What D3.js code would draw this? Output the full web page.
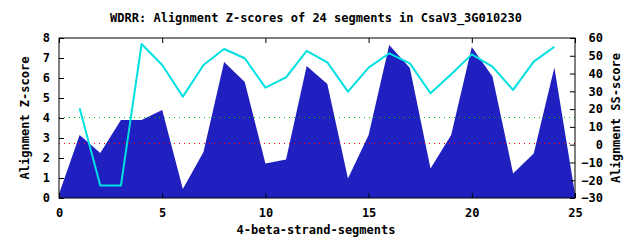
<!DOCTYPE html>
<html>
<head>
<meta charset="utf-8">
<script src="https://cdn.jsdelivr.net/npm/d3@7"></script>
<style>
  body { margin: 0; background: #fff; }
  svg { display: block; }
  text { font-family: "DejaVu Sans Mono", "Liberation Mono", monospace; font-weight: bold; font-size: 12px; fill: #000; }
</style>
</head>
<body>
<svg class="chart" width="640" height="240"></svg>
<script>
// segment index 0..25
var segments = d3.range(0, 26);
// Z-score (filled area, left axis)
var zScores = [0.2, 3.15, 2.25, 3.9, 3.9, 4.4, 0.45, 2.3, 6.8, 5.8, 1.73, 1.93, 6.6, 5.7,
               0.98, 3.15, 7.65, 6.5, 1.48, 3.15, 7.55, 6.07, 1.23, 2.23, 6.52, 0.2];
// SS-score (cyan line, right axis), segments 1..24
var ssSegments = d3.range(1, 25);
var ssScores = [20.5, -23, -23, 56.6, 44.8, 27, 44.8, 53.8, 48.6, 32.1, 37.9, 52.7,
                46.3, 29.8, 43.3, 51.4, 45.7, 28.9, 39.6, 50.8, 43.9, 30.8, 46.7, 55.1];
// threshold lines (left axis units)
var thresholds = [{v: 4.03, c: "#00c000"}, {v: 2.73, c: "#ff0000"}];

var xTicks = [0, 5, 10, 15, 20, 25],
    yTicks = d3.range(0, 9),
    y2Ticks = d3.range(-30, 61, 10);

var svg = d3.select("svg.chart"),
    margin = {top: 38, right: 65, bottom: 42, left: 59};
var width = 640 - margin.left - margin.right,
    height = 240 - margin.top - margin.bottom;

var x = d3.scaleLinear().domain([0, 25]).range([margin.left, margin.left + width]);
var y = d3.scaleLinear().domain([0, 8]).range([margin.top + height, margin.top]);
var y2 = d3.scaleLinear().domain([-30, 60]).range([margin.top + height, margin.top]);

// title
svg.append("text")
    .attr("x", 316).attr("y", 22)
    .attr("text-anchor", "middle")
    .attr("font-size", "11.8px")
    .text("WDRR: Alignment Z-scores of 24 segments in CsaV3_3G010230");

// filled z-score area
var area = d3.area()
    .x(function(d, i) { return x(segments[i]); })
    .y0(y(0))
    .y1(function(d) { return y(d); });
svg.append("path")
    .datum(zScores)
    .attr("fill", "#2020c0")
    .attr("d", area);

// threshold dotted lines
svg.selectAll("line.thr")
  .data(thresholds)
  .enter().append("line")
    .attr("class", "thr")
    .attr("x1", x(0)).attr("x2", x(25))
    .attr("y1", function(d) { return Math.round(y(d.v)) + 0.5; })
    .attr("y2", function(d) { return Math.round(y(d.v)) + 0.5; })
    .attr("stroke", function(d) { return d.c; })
    .attr("stroke-width", 1)
    .attr("stroke-dasharray", "1,4");

// ss-score line
var line = d3.line()
    .x(function(d, i) { return x(ssSegments[i]); })
    .y(function(d) { return y2(d); });
svg.append("path")
    .datum(ssScores)
    .attr("fill", "none")
    .attr("stroke", "#00e0e0")
    .attr("stroke-width", 2)
    .attr("stroke-linejoin", "round")
    .attr("d", line);

// axes (ticks inward)
var tick = 5;
var gx = svg.append("g")
    .attr("transform", "translate(0," + y(0) + ")")
    .call(d3.axisBottom(x).tickValues(xTicks).tickSize(-tick).tickPadding(10));
var gxTop = svg.append("g")
    .attr("transform", "translate(0," + y(8) + ")")
    .call(d3.axisTop(x).tickValues(xTicks).tickSize(-tick).tickFormat(""));
var gy = svg.append("g")
    .attr("transform", "translate(" + x(0) + ",0)")
    .call(d3.axisLeft(y).tickValues(yTicks).tickSize(-tick).tickPadding(9));
var gy2 = svg.append("g")
    .attr("transform", "translate(" + x(25) + ",0)")
    .call(d3.axisRight(y2).tickValues(y2Ticks).tickSize(-tick).tickPadding(28));

[gx, gxTop, gy, gy2].forEach(function(g) {
  g.select(".domain").remove();
  g.selectAll("line").attr("stroke", "#000");
  g.selectAll("text").attr("font-size", 12).attr("font-family", null);
});
gy.selectAll("text").attr("text-anchor", "end");
gy2.selectAll("text").attr("text-anchor", "end");

// border
svg.append("rect")
    .attr("x", x(0)).attr("y", y(8))
    .attr("width", x(25) - x(0)).attr("height", y(0) - y(8))
    .attr("fill", "none")
    .attr("stroke", "#000")
    .attr("stroke-width", 1);

// axis labels
svg.append("text")
    .attr("x", 316).attr("y", 234)
    .attr("text-anchor", "middle")
    .text("4-beta-strand-segments");
svg.append("text")
    .attr("transform", "translate(29," + (y(4)) + ") rotate(-90)")
    .attr("text-anchor", "middle")
    .text("Alignment Z-score");
svg.append("text")
    .attr("transform", "translate(620," + (y(4)) + ") rotate(-90)")
    .attr("text-anchor", "middle")
    .text("Alignment SS-score");
</script>
</body>
</html>
